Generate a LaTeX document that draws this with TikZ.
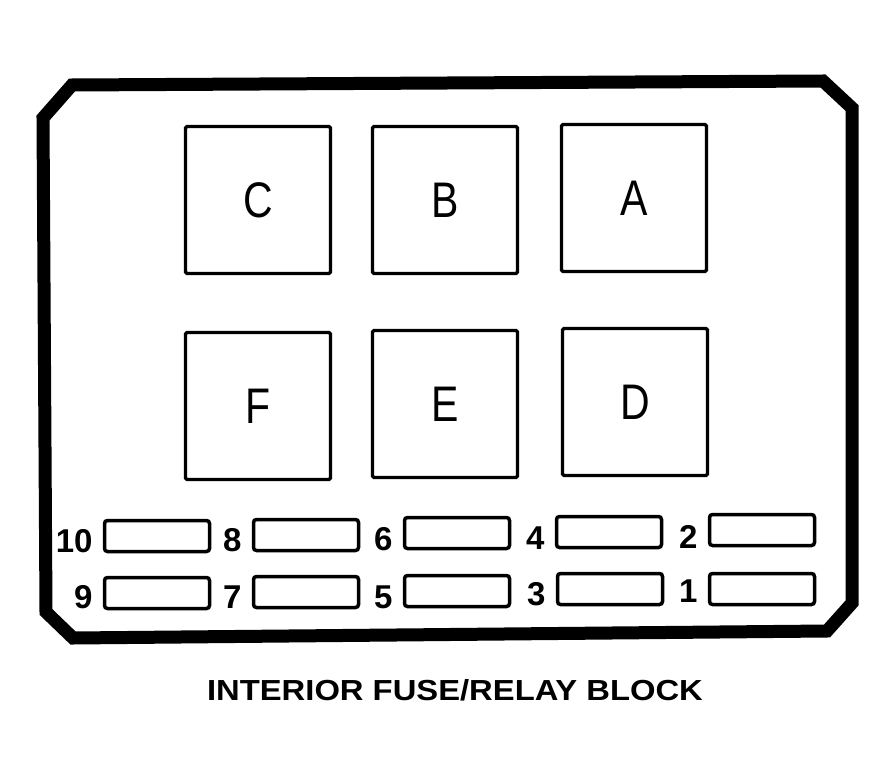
\documentclass[tikz,border=0pt]{standalone}
\usepackage{fontspec}
\setmainfont{Liberation Sans}
\newcommand{\relaytext}[1]{\scalebox{0.82}[1]{#1}}
\begin{document}
\begin{tikzpicture}[x=1pt,y=-1pt,
  relay/.style={draw,line width=3.2pt,rounded corners=1.5pt,minimum width=145pt,minimum height=147pt,inner sep=0pt,font=\fontsize{50}{50}\selectfont},
  fuse/.style={draw,line width=3.5pt,rounded corners=3pt,minimum width=105pt,minimum height=31pt,inner sep=0pt},
  num/.style={inner sep=0pt,anchor=east,font=\bfseries\fontsize{33}{33}\selectfont},
  title/.style={inner sep=0pt,font=\bfseries\fontsize{29}{29}\selectfont}]
\useasboundingbox (0,0) rectangle (895,784);
% housing outline
\draw[line width=13pt,line join=miter]
  (43,118) -- (72,85) -- (823,81) -- (852,108) -- (852,603) -- (827,631) -- (73,638) -- (46,612) -- cycle;
% relays
\node[relay] (C) at (258,200) {\relaytext{C}};
\node[relay] (B) at (445,200) {\relaytext{B}};
\node[relay] (A) at (634,198) {\relaytext{A}};
\node[relay] (F) at (258,406) {\relaytext{F}};
\node[relay] (E) at (445,404) {\relaytext{E}};
\node[relay] (D) at (635,402) {\relaytext{D}};
% fuses
\node[fuse] (f10) at (157,536) {};
\node[fuse] (f8) at (306,535) {};
\node[fuse] (f6) at (457,533) {};
\node[fuse] (f4) at (609,532) {};
\node[fuse] (f2) at (762,530) {};
\node[fuse] (f9) at (157,593) {};
\node[fuse] (f7) at (306,592) {};
\node[fuse] (f5) at (457,591) {};
\node[fuse] (f3) at (610,589) {};
\node[fuse] (f1) at (762,589) {};
% fuse numbers
\node[num] (n10) at ([xshift=-10pt,yshift=-5pt]f10.west) {10};
\node[num] (n8) at ([xshift=-10pt,yshift=-5pt]f8.west) {8};
\node[num] (n6) at ([xshift=-10pt,yshift=-6pt]f6.west) {6};
\node[num] (n4) at ([xshift=-10pt,yshift=-6pt]f4.west) {4};
\node[num] (n2) at ([xshift=-10pt,yshift=-7pt]f2.west) {2};
\node[num] (n9) at ([xshift=-10pt,yshift=-4pt]f9.west) {9};
\node[num] (n7) at ([xshift=-10pt,yshift=-5pt]f7.west) {7};
\node[num] (n5) at ([xshift=-10pt,yshift=-6pt]f5.west) {5};
\node[num] (n3) at ([xshift=-10pt,yshift=-5pt]f3.west) {3};
\node[num] (n1) at ([xshift=-10pt,yshift=-2pt]f1.west) {1};
% title
\node[title] (T) at (455,690) {\scalebox{1.13}[1]{INTERIOR FUSE/RELAY BLOCK}};
\end{tikzpicture}
\end{document}
